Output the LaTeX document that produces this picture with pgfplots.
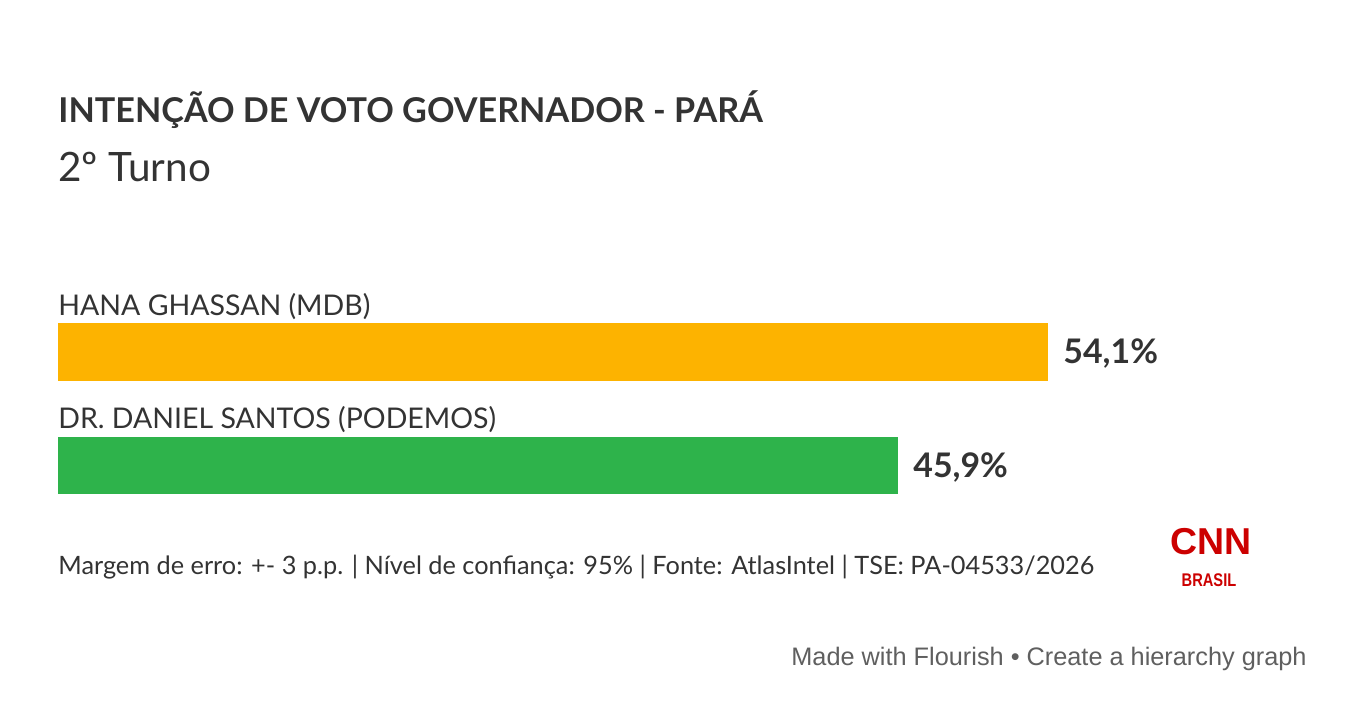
\documentclass[border=0pt]{standalone}
\usepackage{pgfplots}
\pgfplotsset{compat=1.18}
\usepackage{fontspec}
\setmainfont{Lato}
\newfontfamily\flourishfont{Liberation Sans}
\definecolor{txt}{HTML}{333333}
\definecolor{hana}{HTML}{FDB300}
\definecolor{daniel}{HTML}{2EB34B}
\definecolor{cnnred}{HTML}{CC0000}
\definecolor{flgrey}{HTML}{5F5F5F}

\begin{document}
\begin{tikzpicture}
% page frame, 1 px = 0.5bp
\path (0,0) rectangle (676.5bp,356bp);

% title block
\node[anchor=base west, inner sep=0, text=txt, font=\bfseries\fontsize{17.15}{20}\selectfont]
  at (29bp,294.5bp) {INTENÇÃO DE VOTO GOVERNADOR - PARÁ};
\node[anchor=base west, inner sep=0, text=txt, font=\fontsize{20.3}{22}\selectfont]
  at (29bp,265bp) {2º Turno};

\begin{axis}[
    at={(29bp,94.875bp)}, anchor=south west,
    scale only axis, width=549bp, height=113.5bp,
    xmin=0, xmax=60, ymin=-0.5, ymax=1.5,
    hide axis, clip=false,
    xbar, bar width=0.5066, bar shift=0pt,
    /pgf/number format/assume math mode=true,
    nodes near coords={\pgfmathprintnumber[fixed,fixed zerofill,precision=1,use comma]{\pgfplotspointmeta}\%},
    nodes near coords style={anchor=base west, inner sep=0pt, xshift=7.5bp, yshift=-5.8bp,
        text=txt, font=\bfseries\fontsize{17}{19}\selectfont},
]
\addplot[draw=none, fill=hana] coordinates {(54.1,1)};
\addplot[draw=none, fill=daniel] coordinates {(45.9,0)};

\node[anchor=base west, inner sep=0, text=txt, font=\fontsize{14.3}{17}\selectfont]
  at (axis cs:0,1.324) {HANA GHASSAN (MDB)};
\node[anchor=base west, inner sep=0, text=txt, font=\fontsize{14.3}{17}\selectfont]
  at (axis cs:0,0.324) {DR. DANIEL SANTOS (PODEMOS)};
\end{axis}

% footer
\node[anchor=base west, inner sep=0, text=txt, font=\fontsize{12.7}{15}\selectfont]
  at (29bp,68.5bp) {Margem de erro: +- 3 p.p. | Nível de confiança: 95\% | Fonte: AtlasIntel | TSE: PA-04533/2026};

% logo
\node[anchor=base, inner sep=0, text=cnnred, font=\flourishfont\bfseries\fontsize{18.8}{20}\selectfont]
  at (605.5bp,78.5bp) {CNN};
\node[anchor=base, inner sep=0, text=cnnred, xscale=0.8, font=\flourishfont\bfseries\fontsize{9.2}{10}\selectfont]
  at (604.5bp,62.5bp) {BRASIL};

\node[anchor=base east, inner sep=0, text=flgrey, font=\flourishfont\fontsize{12.7}{14}\selectfont]
  at (653.5bp,23.5bp) {Made with Flourish • Create a hierarchy graph};
\end{tikzpicture}
\end{document}
